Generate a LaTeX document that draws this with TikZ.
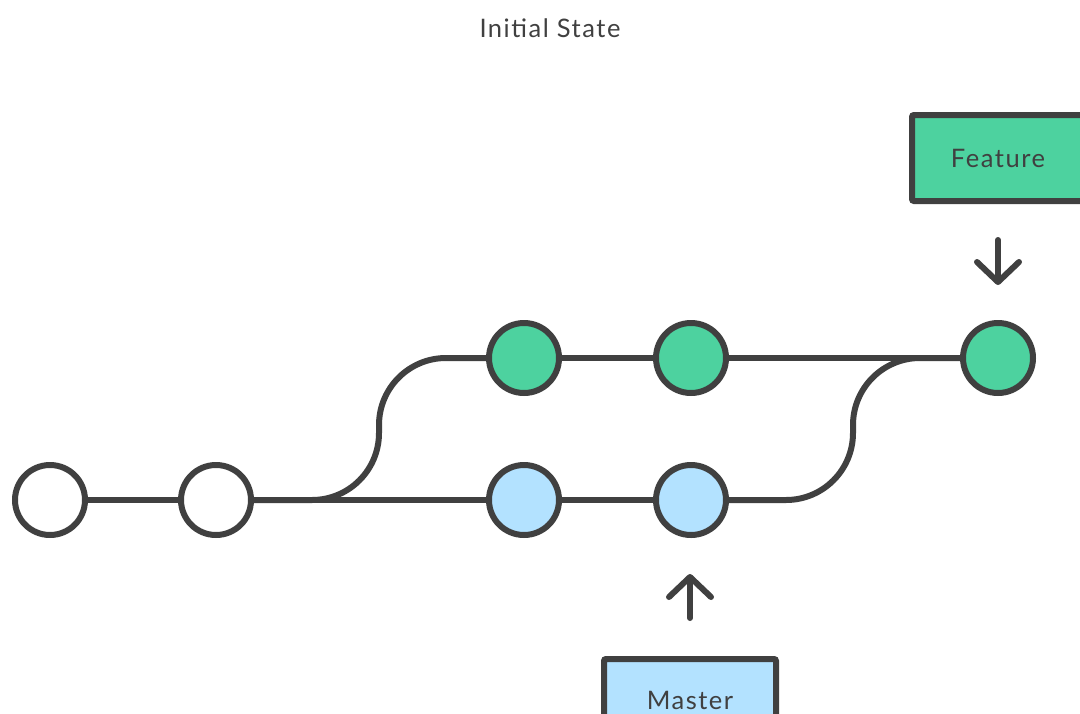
\documentclass[tikz,border=0pt]{standalone}
\usepackage{fontspec}
\setmainfont{Lato}
\newfontfamily\labelfont[LetterSpace=6]{Lato}
\usetikzlibrary{arrows.meta}
\definecolor{ink}{HTML}{404040}
\definecolor{featgreen}{HTML}{4DD29F}
\definecolor{mastblue}{HTML}{B3E2FF}
\pgfdeclarelayer{background}
\pgfsetlayers{background,main}
\tikzset{
  commit/.style={circle, draw=ink, line width=6pt, minimum size=70pt, inner sep=0pt, fill=white},
  featcommit/.style={commit, fill=featgreen},
  mastcommit/.style={commit, fill=mastblue},
  edge/.style={draw=ink, line width=6pt},
  branchedge/.style={edge, rounded corners=67pt},
  labeltext/.style={font=\labelfont\fontsize{25.5}{26}\selectfont, text=ink},
  refbox/.style={labeltext, draw=ink, line width=6pt, rounded corners=2pt, minimum width=172pt, minimum height=86pt, inner sep=0pt},
  pointer/.style={draw=ink, line width=6pt, line cap=round, -{Straight Barb[length=20pt, width=42pt, round]}},
}
\begin{document}
\begin{tikzpicture}[x=1pt, y=-1pt]
  \useasboundingbox (0,0) rectangle (1080,713);
  \clip (0,0) rectangle (1080,713);

  \node[labeltext] (title) at (550,28) {Initial State};

  % bend columns of the two branch curves
  \coordinate (forkx) at (379,0);
  \coordinate (mergex) at (853,0);

  % commits
  \node[commit] (c1) at (50,500) {};
  \node[commit] (c2) at (216,500) {};
  \node[featcommit] (f1) at (524,358) {};
  \node[featcommit] (f2) at (691,358) {};
  \node[featcommit] (f3) at (998,358) {};
  \node[mastcommit] (m1) at (524,500) {};
  \node[mastcommit] (m2) at (691,500) {};

  % history lines, kept beneath the commits
  \begin{pgfonlayer}{background}
    \path[edge] (c1) -- (c2);
    \path[edge] (c2) -- (m1);
    \path[edge] (m1) -- (m2);
    \path[edge] (f1) -- (f2);
    \path[edge] (f2) -- (f3);
    \path[branchedge] (c2.east) -- (c2.east -| forkx) -- (f1.center -| forkx) -- (f1.center);
    \path[branchedge] (m2.east) -- (m2.east -| mergex) -- (f3.center -| mergex) -- (f3.center);
  \end{pgfonlayer}

  % branch labels
  \node[refbox, fill=featgreen] (feature) at (998,158) {Feature};
  \node[refbox, fill=mastblue, text depth=0pt] (master) at (690,702) {\raisebox{3pt}{Master}};

  \coordinate (fa) at (998,240);
  \coordinate (fb) at (998,285);
  \coordinate (ma) at (690,618);
  \coordinate (mb) at (690,574);
  \path[pointer] (fa) -- (fb);
  \path[pointer] (ma) -- (mb);
\end{tikzpicture}
\end{document}
